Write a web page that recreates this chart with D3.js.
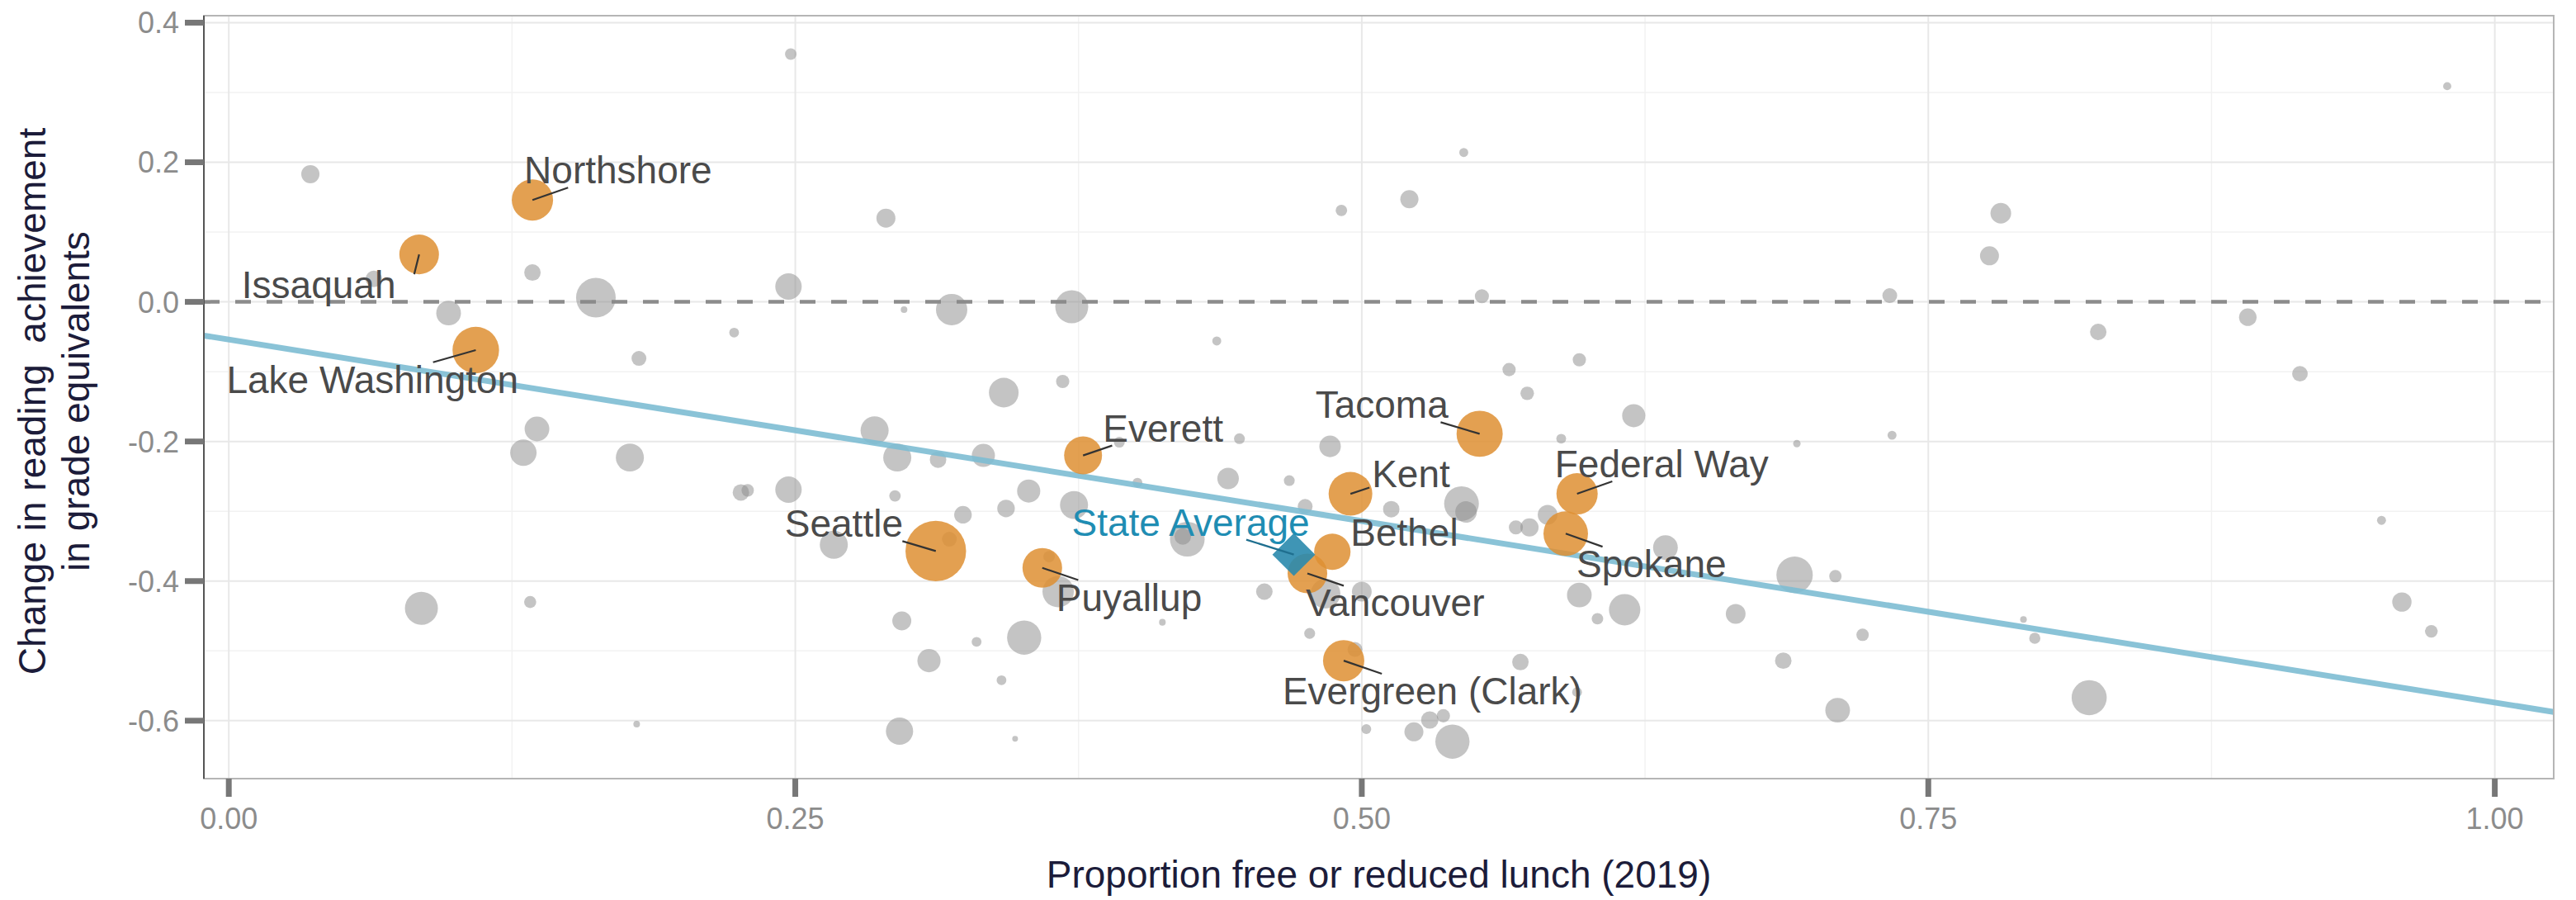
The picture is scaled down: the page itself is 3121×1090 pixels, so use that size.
<!DOCTYPE html>
<html>
<head>
<meta charset="utf-8">
<script src="https://cdn.jsdelivr.net/npm/d3@7"></script>
<style>
  body { margin: 0; background: #fff; }
  svg { display: block; font-family: "Liberation Sans", Arial, sans-serif; }
</style>
</head>
<body>
<svg id="chart" width="3121" height="1090"></svg>
<script>
// other districts: proportion free/reduced lunch, change in reading (grade equiv.), enrollment
var greyFrl = [0.036, 0.064, 0.134, 0.162, 0.097, 0.223, 0.181, 0.248, 0.247, 0.290,
  0.491, 0.298, 0.319, 0.372, 0.436, 0.545, 0.521, 0.553, 0.733, 0.565,
  0.596, 0.979, 0.782, 0.777, 0.825, 0.891, 0.914, 0.950, 0.959, 0.972,
  0.792, 0.797, 0.821, 0.136, 0.130, 0.177, 0.226, 0.229, 0.247, 0.085,
  0.133, 0.180, 0.342, 0.368, 0.285, 0.295, 0.313, 0.333, 0.393, 0.446,
  0.486, 0.294, 0.267, 0.324, 0.343, 0.353, 0.373, 0.401, 0.441, 0.468,
  0.475, 0.318, 0.362, 0.366, 0.423, 0.421, 0.457, 0.412, 0.477, 0.484,
  0.500, 0.351, 0.297, 0.330, 0.309, 0.341, 0.296, 0.347, 0.497, 0.502,
  0.573, 0.620, 0.588, 0.692, 0.734, 0.544, 0.546, 0.513, 0.568, 0.574,
  0.582, 0.634, 0.691, 0.709, 0.596, 0.616, 0.604, 0.665, 0.721, 0.570,
  0.686, 0.710, 0.595, 0.530, 0.536, 0.523, 0.540];
var greyChange = [0.183, 0.033, 0.042, 0.006, -0.016, -0.044, -0.081, 0.355, 0.022, 0.120,
  0.131, -0.011, -0.011, -0.007, -0.056, 0.214, 0.147, 0.008, 0.009, -0.097,
  -0.083, 0.309, 0.127, 0.066, -0.043, -0.022, -0.103, -0.313, -0.430, -0.472,
  -0.455, -0.482, -0.567, -0.182, -0.216, -0.223, -0.273, -0.270, -0.269, -0.439,
  -0.430, -0.605, -0.130, -0.114, -0.184, -0.223, -0.226, -0.220, -0.201, -0.196,
  -0.207, -0.278, -0.348, -0.305, -0.296, -0.271, -0.291, -0.259, -0.253, -0.256,
  -0.293, -0.340, -0.365, -0.415, -0.340, -0.336, -0.415, -0.459, -0.475, -0.418,
  -0.415, -0.481, -0.457, -0.487, -0.514, -0.542, -0.615, -0.626, -0.498, -0.612,
  -0.131, -0.163, -0.196, -0.203, -0.191, -0.289, -0.301, -0.297, -0.323, -0.323,
  -0.305, -0.352, -0.391, -0.393, -0.420, -0.441, -0.454, -0.447, -0.477, -0.516,
  -0.514, -0.585, -0.559, -0.599, -0.593, -0.616, -0.630];
var greyEnroll = [4500, 3700, 3700, 21400, 8300, 1300, 3000, 1800, 9500, 4900,
  1800, 600, 13400, 14800, 1100, 1100, 4500, 2700, 3000, 2400,
  2400, 900, 5800, 4900, 3700, 4200, 3300, 1100, 5100, 2200,
  600, 1700, 16800, 8300, 9500, 10700, 3700, 2100, 9500, 14800,
  2000, 600, 12000, 2400, 10700, 10700, 3700, 7300, 1600, 1600,
  6300, 1800, 10700, 4200, 4200, 7300, 10700, 1300, 6300, 1600,
  3000, 3000, 1800, 13400, 16400, 3700, 3700, 600, 1600, 12000,
  5300, 15900, 4900, 1300, 7300, 1300, 10100, 450, 3000, 1300,
  2500, 7300, 1300, 750, 1100, 16400, 6300, 3700, 2700, 4500,
  5300, 8300, 18000, 2100, 8300, 13400, 1800, 5300, 2100, 3700,
  3700, 8300, 1300, 4100, 2400, 4900, 15900];

// highlighted districts
var hiNames = ["Northshore", "Issaquah", "Lake Washington", "Everett", "Seattle", "Puyallup",
  "Bethel", "Vancouver", "Evergreen (Clark)", "Tacoma", "Kent", "Federal Way", "Spokane"];
var hiFrl = [0.134, 0.084, 0.109, 0.377, 0.312, 0.359, 0.487, 0.476, 0.492, 0.552, 0.495, 0.595, 0.590];
var hiChange = [0.146, 0.068, -0.069, -0.220, -0.357, -0.381, -0.358, -0.389, -0.514, -0.189, -0.275, -0.275, -0.332];
var hiEnroll = [23200, 21400, 29500, 19600, 50000, 21400, 18000, 21400, 23200, 29000, 26000, 23200, 27000];

var stateName = "State Average", stateFrl = 0.470, stateChange = -0.362;

// fitted line
var fitIntercept = -0.054, fitSlope = -0.52;

var xTicks = [0, 0.25, 0.5, 0.75, 1.0];
var xTickLabels = ["0.00", "0.25", "0.50", "0.75", "1.00"];
var yTicks = [-0.6, -0.4, -0.2, 0.0, 0.2, 0.4];
var yTickLabels = ["-0.6", "-0.4", "-0.2", "0.0", "0.2", "0.4"];

// label placement (px offsets from the point: text left / baseline, optional segment end), like ggrepel output
var labelNudge = {
  "Northshore": [-10, -20], "Issaquah": [-215, 53, -6, 24], "Lake Washington": [-302, 52],
  "Everett": [24, -17], "Seattle": [-183, -17], "Puyallup": [17, 52],
  "Bethel": [22, -7], "Vancouver": [-2, 52], "Evergreen (Clark)": [-74, 53],
  "Tacoma": [-199, -19], "Kent": [26, -8], "Federal Way": [-27, -20],
  "Spokane": [13, 53], "State Average": [-269, -23]
};

var svg = d3.select("#chart"),
    pLeft = 247, pRight = 3094, pTop = 19, pBottom = 943,
    x = d3.scaleLinear().domain([-0.011, 1.026]).range([pLeft, pRight]),
    y = d3.scaleLinear().domain([-0.683, 0.41]).range([pBottom, pTop]),
    r = d3.scaleSqrt().domain([0, 55000]).range([0, 38.5]),
    fs = 46;

var grey = greyFrl.map(function(d, i) { return {frl: d, change: greyChange[i], enroll: greyEnroll[i]}; });
var hi = hiNames.map(function(d, i) { return {name: d, frl: hiFrl[i], change: hiChange[i], enroll: hiEnroll[i]}; });

// grid
var g = svg.append("g");
var minorX = [0.125, 0.375, 0.625, 0.875], minorY = [-0.5, -0.3, -0.1, 0.1, 0.3];
g.selectAll(".mx").data(minorX).enter().append("line")
    .attr("x1", x).attr("x2", x).attr("y1", pTop).attr("y2", pBottom)
    .attr("stroke", "#f2f2f2").attr("stroke-width", 1.5);
g.selectAll(".my").data(minorY).enter().append("line")
    .attr("y1", y).attr("y2", y).attr("x1", pLeft).attr("x2", pRight)
    .attr("stroke", "#f2f2f2").attr("stroke-width", 1.5);
g.selectAll(".gx").data(xTicks).enter().append("line")
    .attr("x1", x).attr("x2", x).attr("y1", pTop).attr("y2", pBottom)
    .attr("stroke", "#e8e8e8").attr("stroke-width", 2);
g.selectAll(".gy").data(yTicks).enter().append("line")
    .attr("y1", y).attr("y2", y).attr("x1", pLeft).attr("x2", pRight)
    .attr("stroke", "#e8e8e8").attr("stroke-width", 2);

// zero line
svg.append("line")
    .attr("x1", pLeft).attr("x2", pRight).attr("y1", y(0)).attr("y2", y(0))
    .attr("stroke", "#8c8c8c").attr("stroke-width", 4.5).attr("stroke-dasharray", "19,19");

// grey points
svg.append("g").selectAll("circle").data(grey).enter().append("circle")
    .attr("cx", function(d) { return x(d.frl); })
    .attr("cy", function(d) { return y(d.change); })
    .attr("r", function(d) { return r(d.enroll); })
    .attr("fill", "#8a8a8a").attr("fill-opacity", 0.5);

// fit line
var xd = x.domain();
svg.append("line")
    .attr("x1", x(xd[0])).attr("y1", y(fitIntercept + fitSlope * xd[0]))
    .attr("x2", x(xd[1])).attr("y2", y(fitIntercept + fitSlope * xd[1]))
    .attr("stroke", "#7dbcd3").attr("stroke-width", 7).attr("stroke-opacity", 0.9);

// highlighted points
svg.append("g").selectAll("circle").data(hi).enter().append("circle")
    .attr("cx", function(d) { return x(d.frl); })
    .attr("cy", function(d) { return y(d.change); })
    .attr("r", function(d) { return r(d.enroll); })
    .attr("fill", "#de8f32").attr("fill-opacity", 0.85);

// state average diamond
svg.append("path")
    .attr("d", d3.symbol().type(d3.symbolSquare).size(1350)())
    .attr("transform", "translate(" + x(stateFrl) + "," + y(stateChange) + ") rotate(45)")
    .attr("fill", "#2a89ad").attr("fill-opacity", 0.9);

// labels + segments
var labels = hi.map(function(d) { return {name: d.name, px: x(d.frl), py: y(d.change), color: "#4a4a4a"}; });
labels.push({name: stateName, px: x(stateFrl), py: y(stateChange), color: "#1f8db3"});

var segG = svg.append("g"), labG = svg.append("g");
labels.forEach(function(d) {
  var n = labelNudge[d.name], tx = d.px + n[0], ty = d.py + n[1];
  var t = labG.append("text").attr("x", tx).attr("y", ty)
      .attr("font-size", fs).attr("fill", d.color).text(d.name);
  var ex, ey;
  if (n.length > 2) {
    ex = d.px + n[2]; ey = d.py + n[3];
  } else {
    var b = t.node().getBBox();
    var x0 = b.x - 3, x1 = b.x + b.width + 3, y0 = ty - 0.72 * fs - 4, y1 = ty + 5;
    var cx = (x0 + x1) / 2, cy = (y0 + y1) / 2, dx = cx - d.px, dy = cy - d.py;
    // where the ray from the point to the label centre enters the label box
    var tmin = 0;
    [[dx, d.px, x0, x1], [dy, d.py, y0, y1]].forEach(function(a) {
      if (a[0] !== 0) {
        var ta = (a[2] - a[1]) / a[0], tb = (a[3] - a[1]) / a[0];
        tmin = Math.max(tmin, Math.min(ta, tb));
      }
    });
    ex = d.px + tmin * dx; ey = d.py + tmin * dy;
  }
  if (Math.hypot(ex - d.px, ey - d.py) > 22) {
    segG.append("line").attr("x1", d.px).attr("y1", d.py).attr("x2", ex).attr("y2", ey)
        .attr("stroke", d.name === stateName ? "#1f6f8f" : "#333").attr("stroke-width", 2.2);
  }
});

// panel border
svg.append("rect").attr("x", pLeft).attr("y", pTop).attr("width", pRight - pLeft).attr("height", pBottom - pTop)
    .attr("fill", "none").attr("stroke", "#b5b5b5").attr("stroke-width", 2);
svg.append("line").attr("x1", pLeft).attr("x2", pLeft).attr("y1", pTop).attr("y2", pBottom)
    .attr("stroke", "#555").attr("stroke-width", 2);

// axes
svg.append("g").selectAll("line").data(yTicks).enter().append("line")
    .attr("x1", pLeft - 23).attr("x2", pLeft).attr("y1", y).attr("y2", y)
    .attr("stroke", "#777").attr("stroke-width", 7);
svg.append("g").selectAll("text").data(yTicks).enter().append("text")
    .attr("x", pLeft - 30).attr("y", y).attr("dy", "0.36em")
    .attr("text-anchor", "end").attr("font-size", 36).attr("fill", "#8c8c8c")
    .text(function(d, i) { return yTickLabels[i]; });

svg.append("g").selectAll("line").data(xTicks).enter().append("line")
    .attr("x1", x).attr("x2", x).attr("y1", pBottom).attr("y2", pBottom + 22)
    .attr("stroke", "#777").attr("stroke-width", 7);
svg.append("g").selectAll("text").data(xTicks).enter().append("text")
    .attr("x", x).attr("y", 1004)
    .attr("text-anchor", "middle").attr("font-size", 36).attr("fill", "#8c8c8c")
    .text(function(d, i) { return xTickLabels[i]; });

svg.append("text")
    .attr("x", (pLeft + pRight) / 2).attr("y", 1075)
    .attr("text-anchor", "middle").attr("font-size", fs).attr("fill", "#1c1c3a")
    .text("Proportion free or reduced lunch (2019)");

var yt = svg.append("text")
    .attr("transform", "translate(55,486) rotate(-90)")
    .attr("text-anchor", "middle").attr("font-size", fs).attr("fill", "#1c1c3a");
yt.append("tspan").attr("x", 0).attr("y", 0).text("Change in reading\u00a0 achievement");
yt.append("tspan").attr("x", 0).attr("y", 53).text("in grade equivalents");
</script>
</body>
</html>
